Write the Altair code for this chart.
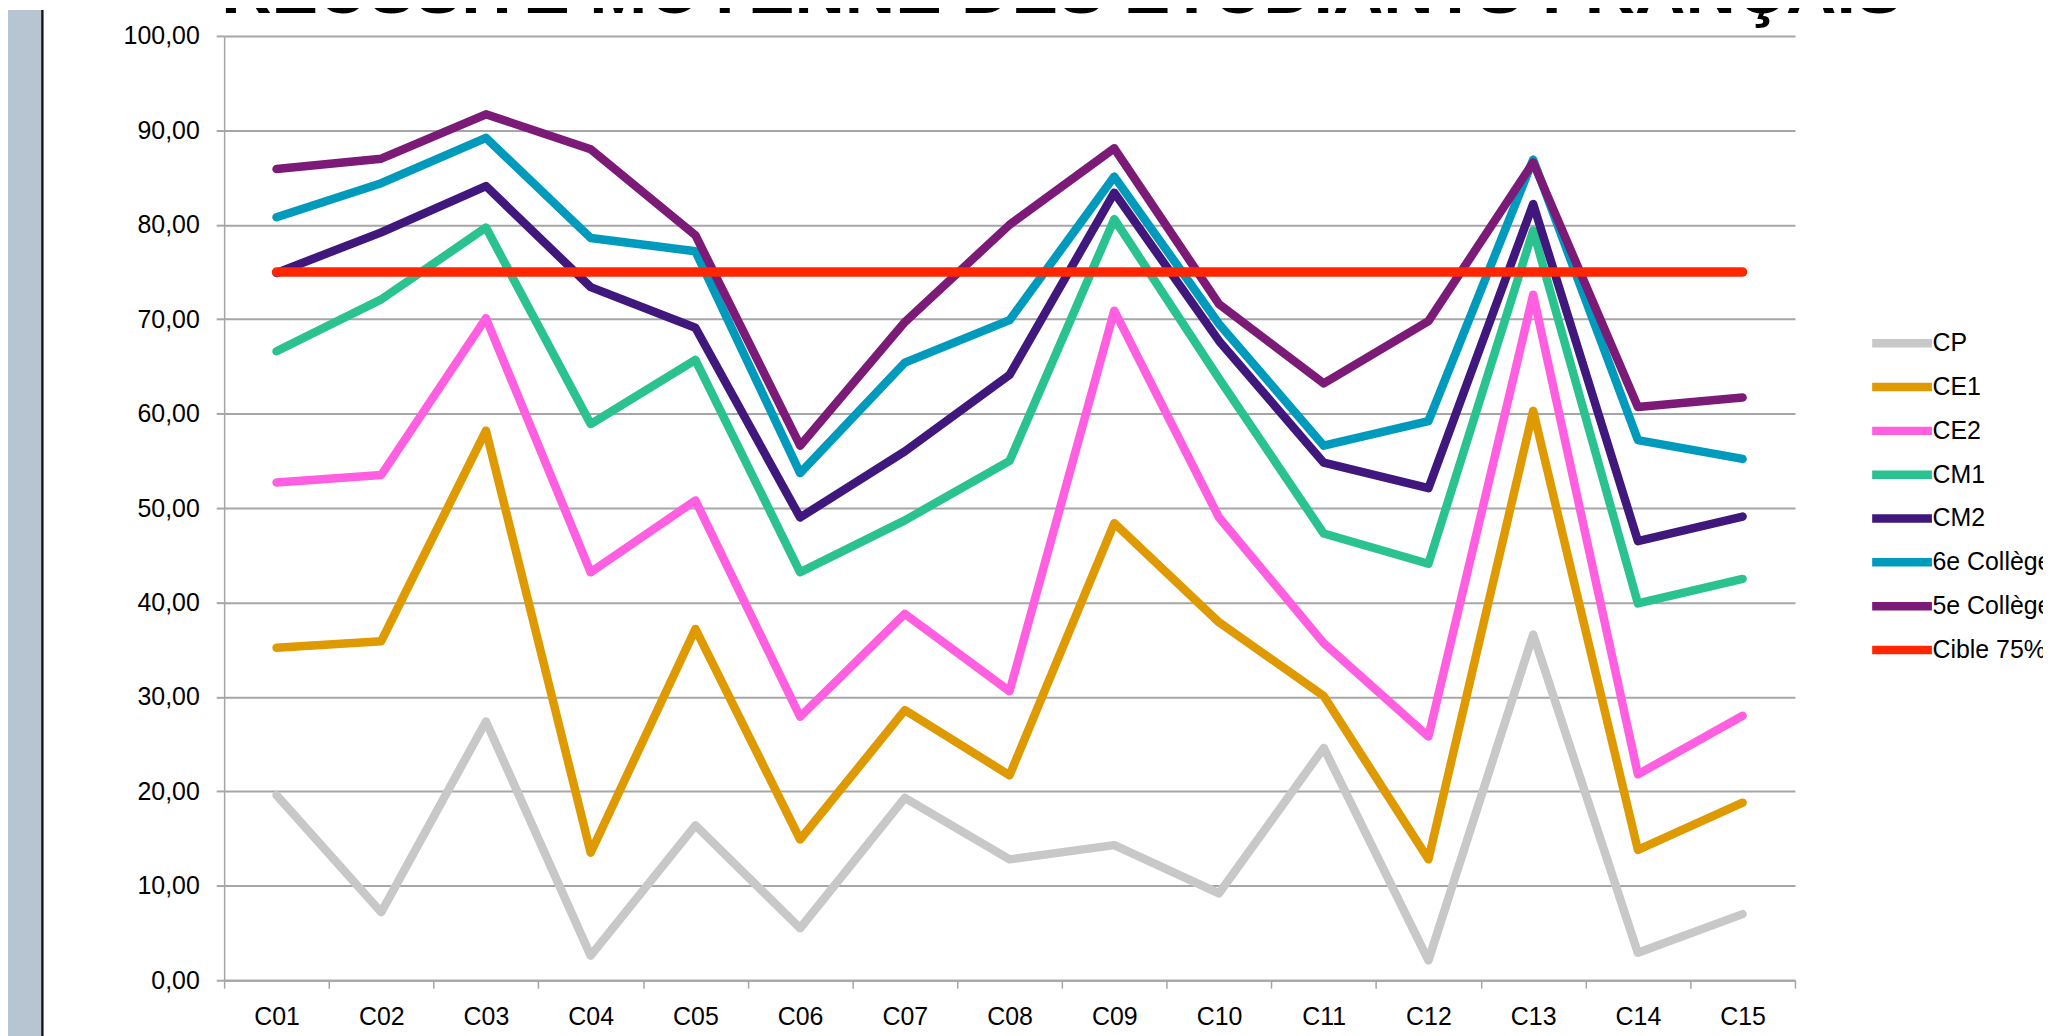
import altair as alt
import pandas as pd

# ---------------- data ----------------
categories = ["C01", "C02", "C03", "C04", "C05", "C06", "C07", "C08",
              "C09", "C10", "C11", "C12", "C13", "C14", "C15"]

series_names = ["CP", "CE1", "CE2", "CM1", "CM2", "6e Collège", "5e Collège", "Cible 75%"]
series_colors = ["#c8c8c8", "#de9a00", "#ff5fe0", "#2ac28f", "#40177c",
                 "#009abc", "#7b1a77", "#ff2600"]

cp = [19.6, 7.2, 27.4, 2.6, 16.4, 5.5, 19.3, 12.8, 14.3, 9.2, 24.6, 2.1, 36.6, 2.9, 7.0]
ce1 = [35.2, 35.9, 58.2, 13.5, 37.2, 14.9, 28.6, 21.7, 48.4, 37.9, 30.1, 12.8, 60.3, 13.8, 18.8]
ce2 = [52.7, 53.5, 70.1, 43.2, 50.8, 27.9, 38.8, 30.6, 70.9, 49.0, 35.7, 25.8, 72.6, 21.8, 28.0]
cm1 = [66.6, 72.1, 79.7, 58.9, 65.7, 43.2, 48.7, 55.0, 80.6, 63.7, 47.3, 44.1, 79.4, 39.9, 42.5]
cm2 = [74.9, 79.2, 84.1, 73.4, 69.1, 49.0, 56.0, 64.1, 83.4, 67.7, 54.8, 52.1, 82.2, 46.5, 49.1]
sixieme = [80.8, 84.4, 89.2, 78.6, 77.2, 53.7, 65.4, 69.9, 85.1, 69.5, 56.6, 59.2, 86.9, 57.2, 55.2]
cinquieme = [85.9, 87.0, 91.7, 88.0, 78.9, 56.6, 69.7, 80.0, 88.1, 71.6, 63.2, 69.8, 86.6, 60.7, 61.7]
cible = [75.0, 75.0, 75.0, 75.0, 75.0, 75.0, 75.0, 75.0, 75.0, 75.0, 75.0, 75.0, 75.0, 75.0, 75.0]

y_ticks = [0, 10, 20, 30, 40, 50, 60, 70, 80, 90, 100]

title_text = "RÉUSSITE MOYENNE DES ÉTUDIANTS FRANÇAIS"

all_series = [cp, ce1, ce2, cm1, cm2, sixieme, cinquieme, cible]
rows = []
for name, vals in zip(series_names, all_series):
    for c, v in zip(categories, vals):
        rows.append({"classe": c, "niveau": name, "valeur": v})
df = pd.DataFrame(rows)
df_lines = df[df["niveau"] != "Cible 75%"]
df_target = df[df["niveau"] == "Cible 75%"]

# ---------------- layout ----------------
W, H = 1577, 948
PAD = {"left": 217, "top": 26, "right": 249, "bottom": 56}
FONT = "Liberation Sans"
GRID = "#a6a6a6"

x_enc = alt.X(
    "classe:N",
    sort=categories,
    bandPosition=0.5,
    scale=alt.Scale(type="band", paddingInner=0, paddingOuter=0),
    axis=alt.Axis(
        title=None, labelAngle=0, grid=False, tickBand="extent",
        tickSize=8, tickColor=GRID, tickWidth=1.5,
        domainColor=GRID, domainWidth=2,
        labelFont=FONT, labelFontSize=25, labelColor="#000000", labelPadding=16,
    ),
)
y_enc = alt.Y(
    "valeur:Q",
    scale=alt.Scale(domain=[0, 100], nice=False),
    axis=alt.Axis(
        title=None, values=y_ticks,
        labelExpr="replace(format(datum.value, '.2f'), '.', ',')",
        grid=True, gridColor=GRID, gridWidth=2,
        domainColor=GRID, domainWidth=1.5,
        tickSize=8, tickColor=GRID, tickWidth=2,
        labelFont=FONT, labelFontSize=25, labelColor="#000000", labelPadding=17,
    ),
)
color_enc = alt.Color(
    "niveau:N",
    sort=series_names,
    scale=alt.Scale(domain=series_names, range=series_colors),
    legend=alt.Legend(
        title=None, orient="none", legendX=1660, legendY=284,
        symbolType="M-1.5,0H1.5", symbolSize=1600, symbolStrokeWidth=8.5,
        labelFont=FONT, labelFontSize=25, labelColor="#000000",
        labelOffset=6, rowPadding=2, padding=0, labelLimit=400,
    ),
)

one = pd.DataFrame({"k": [0]})
band = alt.Chart(one).mark_rect(color="#b7c4d2").encode(
    x=alt.value(-PAD["left"]), x2=alt.value(-183.7),
    y=alt.value(-PAD["top"]), y2=alt.value(H + PAD["bottom"]),
)
edge = alt.Chart(one).mark_rect(color="#151515").encode(
    x=alt.value(-183.7), x2=alt.value(-181.3),
    y=alt.value(-PAD["top"]), y2=alt.value(H + PAD["bottom"]),
)

# chart title, partly above the visible page as in the reference
title_df = pd.DataFrame({"titre": [title_text]})
title = alt.Chart(title_df).mark_text(
    align="left", baseline="alphabetic", font=FONT, fontSize=70,
    fontWeight="bold", color="#000000",
).encode(text="titre:N", x=alt.value(-3), y=alt.value(-23))

lines = alt.Chart(df_lines).mark_line(
    strokeWidth=8.5, strokeCap="round", strokeJoin="round"
).encode(x=x_enc, y=y_enc, color=color_enc)

target = alt.Chart(df_target).mark_line(
    strokeWidth=9.5, strokeCap="round", strokeJoin="round"
).encode(x=x_enc, y=y_enc, color=color_enc)

chart = alt.layer(band, edge, title, lines, target).properties(
    width=W, height=H,
    padding=PAD,
    autosize=alt.AutoSizeParams(type="none"),
).configure_view(stroke=None)

chart.save("out.html", embed_options={"renderer": "svg", "actions": False})
